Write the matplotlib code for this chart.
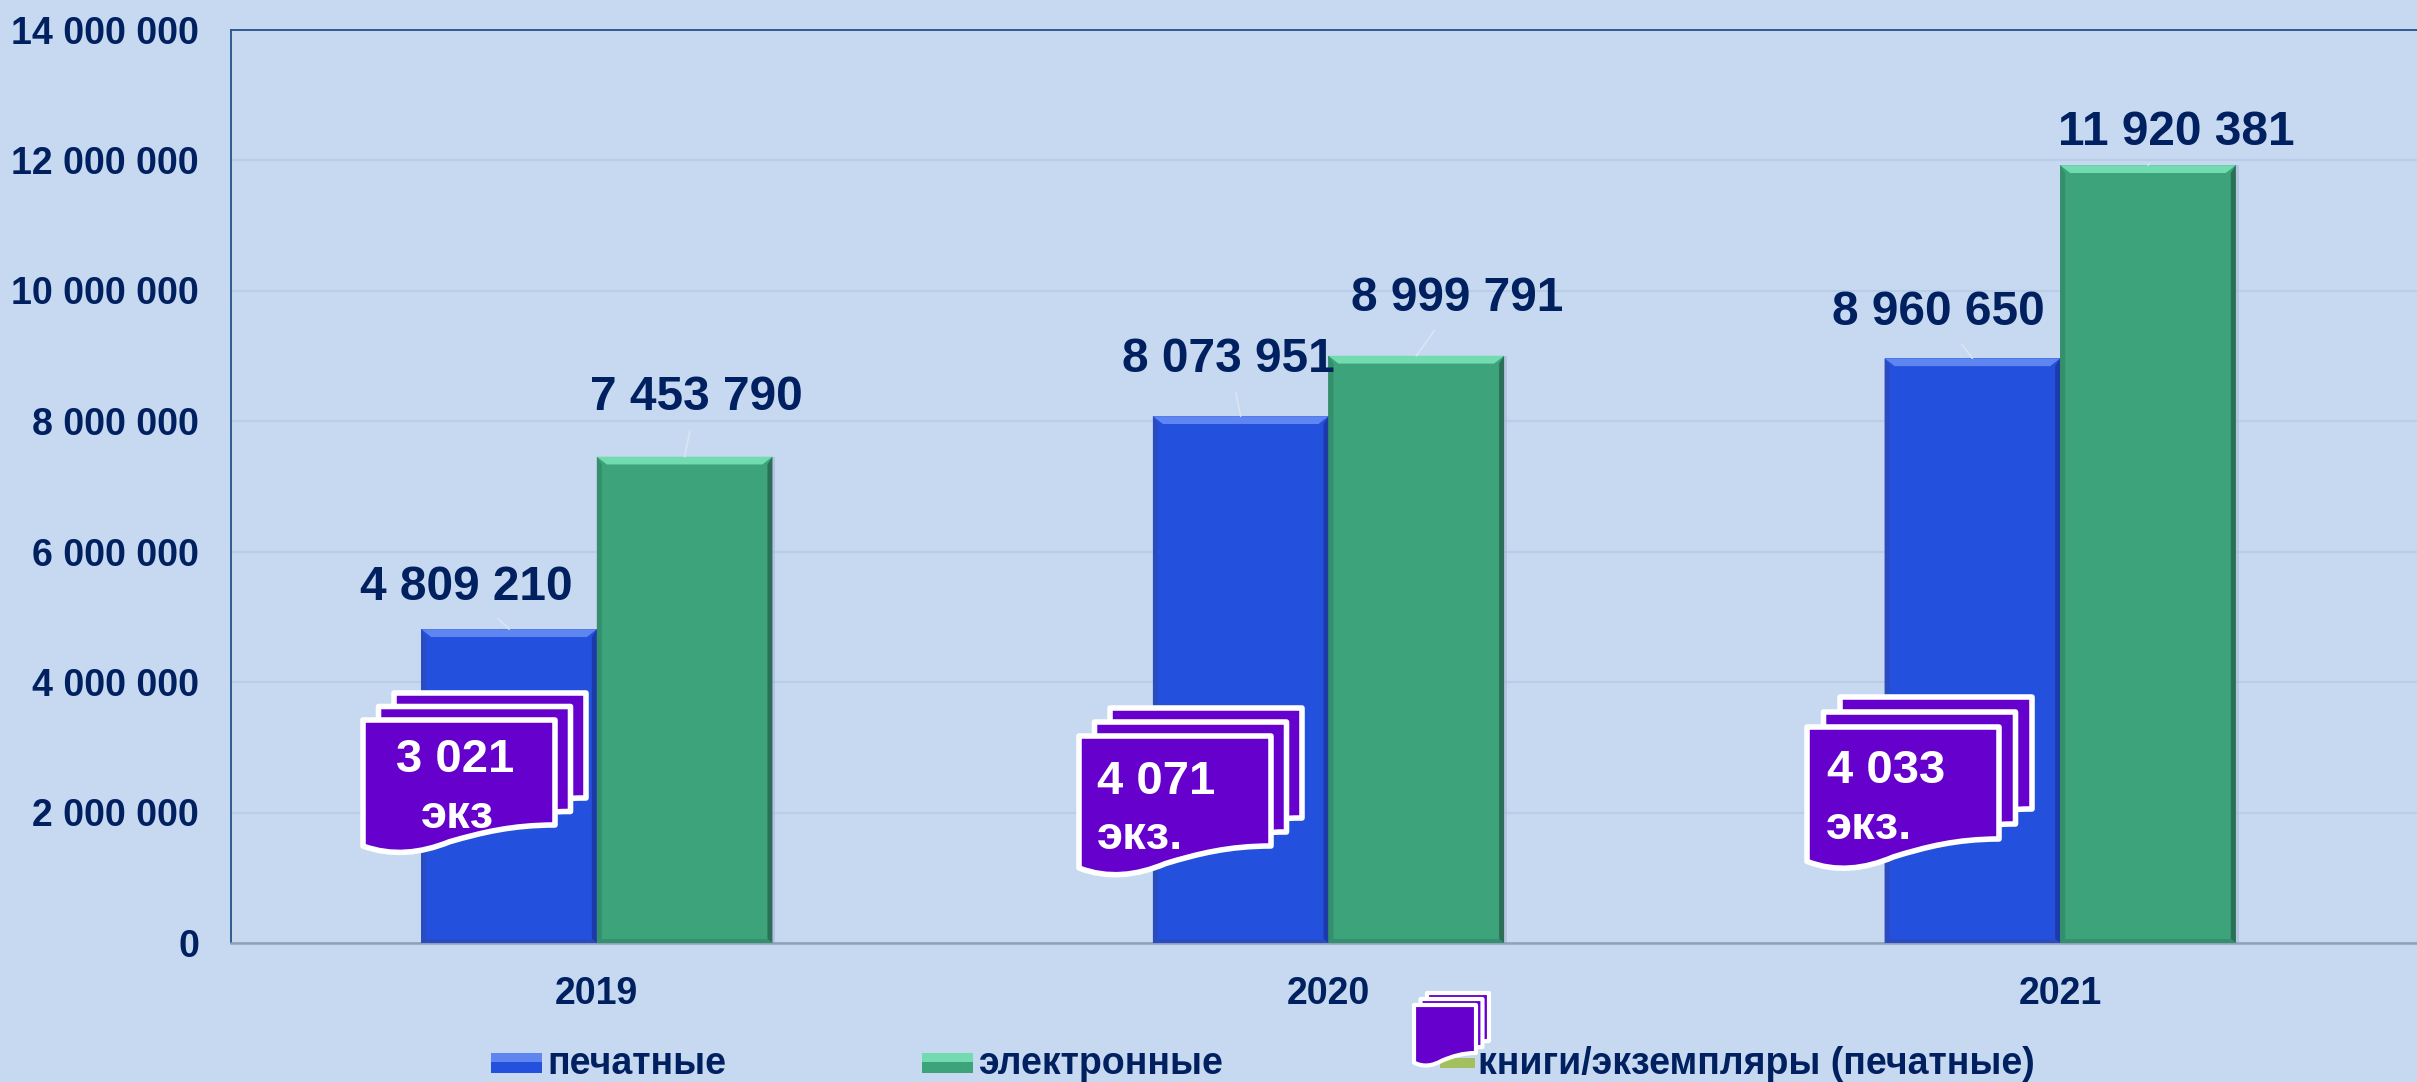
import matplotlib.pyplot as plt
from matplotlib.patches import PathPatch, Rectangle
from matplotlib.path import Path

# data
years = ['2019', '2020', '2021']
printed = [4809210, 8073951, 8960650]
electronic = [7453790, 8999791, 11920381]
printed_labels = ['4 809 210', '8 073 951', '8 960 650']
electronic_labels = ['7 453 790', '8 999 791', '11 920 381']
y_ticks = [0, 2000000, 4000000, 6000000, 8000000, 10000000, 12000000, 14000000]
y_tick_labels = ['0', '2 000 000', '4 000 000', '6 000 000', '8 000 000',
                 '10 000 000', '12 000 000', '14 000 000']
book_counts = ['3 021', '4 071', '4 033']
book_units = ['экз', 'экз.', 'экз.']
legend_names = ['печатные', 'электронные', 'книги/экземпляры (печатные)']

W, H = 2417, 1082
BG = '#c6d9f1'
NAVY = '#002060'
PURPLE = '#6600cc'
BLUE = '#2350dc'
GREEN = '#3ca37a'
BAR_W = 0.24

plt.rcParams['font.family'] = ['Liberation Sans', 'DejaVu Sans']
plt.rcParams['font.weight'] = 'bold'

fig = plt.figure(figsize=(W / 100, H / 100), dpi=100, facecolor=BG)
ax = fig.add_axes([231 / W, (H - 943) / H, 2195 / W, 913.5 / H], facecolor=BG)

# overlay in image pixels for the paper sheets and the legend
over = fig.add_axes([0, 0, 1, 1], facecolor='none')
over.set_xlim(0, W)
over.set_ylim(H, 0)
over.axis('off')


def bevel_bar(x, value, color, light, dark, darker):
    ax.bar(x, value, BAR_W, color=color, zorder=3, linewidth=0)
    ax.bar(x + 0.004, value, BAR_W, color='#9fb4d0', alpha=0.5, zorder=2, linewidth=0)
    dx = 10 / 732
    dy = 120000
    l, r = x - BAR_W / 2, x + BAR_W / 2
    ax.fill([l, r, r - dx, l + dx], [value, value, value - dy, value - dy], color=light, zorder=4, lw=0)
    ax.fill([l, l + dx / 2, l + dx / 2, l], [0, dy / 2, value - dy, value], color=dark, zorder=4, lw=0)
    ax.fill([r, r - dx / 2, r - dx / 2, r], [0, dy / 2, value - dy, value], color=darker, zorder=4, lw=0)
    ax.fill([l, r, r - dx / 2, l + dx / 2], [0, 0, dy / 2, dy / 2], color=dark, zorder=4, lw=0)


xs = list(range(len(years)))
for i in xs:
    bevel_bar(i - BAR_W / 2, printed[i], BLUE, '#5f86f0', '#2a4cc0', '#1c3aa8')
    bevel_bar(i + BAR_W / 2, electronic[i], GREEN, '#72dcb0', '#348f6c', '#2c6f58')

ax.set_xlim(-0.5, 2.5)
ax.set_ylim(0, 14000000)
ax.set_xticks(xs)
ax.set_xticklabels(years, fontsize=27, color=NAVY, fontweight='bold')
ax.set_yticks(y_ticks)
ax.set_yticklabels(y_tick_labels, fontsize=27, color=NAVY, fontweight='bold')
ax.tick_params(axis='both', length=0)
ax.tick_params(axis='x', pad=24)
ax.tick_params(axis='y', pad=23)
ax.grid(axis='y', color='#b9cde8', linewidth=1.5, zorder=0)
ax.set_axisbelow(True)
ax.spines['right'].set_visible(False)
ax.spines['left'].set_color('#2f5b8f')
ax.spines['top'].set_color('#2f5b8f')
ax.spines['left'].set_linewidth(1.4)
ax.spines['top'].set_linewidth(1.4)
ax.spines['bottom'].set_color('#8f9fb8')
ax.spines['bottom'].set_linewidth(1.8)

# value labels with the thin leader lines, offsets in image pixels from bar top
printed_offsets = [(-43, -42), (-12, -57), (-34, -46)]
electronic_offsets = [(12, -59), (41, -57), (28, -33)]
for i in xs:
    for x, v, txt, off in [(i - BAR_W / 2, printed[i], printed_labels[i], printed_offsets[i]),
                           (i + BAR_W / 2, electronic[i], electronic_labels[i], electronic_offsets[i])]:
        ax.annotate(txt, (x, v), xytext=(off[0] * 0.72, -off[1] * 0.72), textcoords='offset points',
                    ha='center', va='center', fontsize=34.5, color=NAVY, fontweight='bold', zorder=6,
                    arrowprops=dict(arrowstyle='-', color='#dbe4f0', lw=1.2, shrinkA=6, shrinkB=0))


def sheet(x, y, w, h, lw, color=PURPLE, z=7):
    # one page with a wavy lower edge, x and y are the top left corner
    verts = [(x, y), (x + w, y), (x + w, y + h),
             (x + 0.78 * w, y + h), (x + 0.62 * w, y + 1.07 * h), (x + 0.45 * w, y + 1.16 * h),
             (x + 0.30 * w, y + 1.27 * h), (x + 0.15 * w, y + 1.30 * h), (x, y + 1.2 * h),
             (x, y)]
    codes = [Path.MOVETO, Path.LINETO, Path.LINETO,
             Path.CURVE4, Path.CURVE4, Path.CURVE4,
             Path.CURVE4, Path.CURVE4, Path.CURVE4,
             Path.CLOSEPOLY]
    over.add_patch(PathPatch(Path(verts, codes), facecolor=color, edgecolor='white',
                             linewidth=lw, joinstyle='round', zorder=z))


def stack(x, y, w, h, dx, dy, lw):
    for k in (2, 1, 0):
        sheet(x + k * dx, y - k * dy, w, h, lw, z=7 + (2 - k))


stack_pos = [(363, 720), (1079, 736), (1807, 727)]
stack_heights = [105, 110, 112]
stack_shift = [(15.5, 13.5), (15.5, 14), (16.5, 15)]
count_pos = [(455, 760), (1156, 782), (1886, 771)]
unit_pos = [(457, 816), (1140, 837), (1869, 827)]
for i in xs:
    stack(stack_pos[i][0], stack_pos[i][1], 192, stack_heights[i], stack_shift[i][0], stack_shift[i][1], 4)
    over.text(count_pos[i][0], count_pos[i][1], book_counts[i], ha='center', va='center',
              fontsize=34, color='white', fontweight='bold', zorder=12)
    over.text(unit_pos[i][0], unit_pos[i][1], book_units[i], ha='center', va='center',
              fontsize=34, color='white', fontweight='bold', zorder=12)

# legend drawn by hand, it is spread over the whole width in the original
for x0, color, light, name in [(491, BLUE, '#5f86f0', legend_names[0]),
                               (922, GREEN, '#72dcb0', legend_names[1])]:
    over.add_patch(Rectangle((x0, 1053), 51, 20, facecolor=color, edgecolor='none', zorder=5))
    over.add_patch(Rectangle((x0, 1053), 51, 9, facecolor=light, edgecolor='none', zorder=6))
    over.text(x0 + 56, 1064, name, ha='left', va='center', fontsize=27, color=NAVY, fontweight='bold')
over.add_patch(Rectangle((1440, 1058), 35, 10, facecolor='#a4bf5e', edgecolor='none', zorder=5))
stack(1414, 1005, 62, 48, 6.5, 6, 3)
over.text(1478, 1064, legend_names[2], ha='left', va='center', fontsize=27, color=NAVY,
          fontweight='bold', zorder=12)

plt.savefig('out.png', dpi=100, facecolor=BG)
plt.close()
